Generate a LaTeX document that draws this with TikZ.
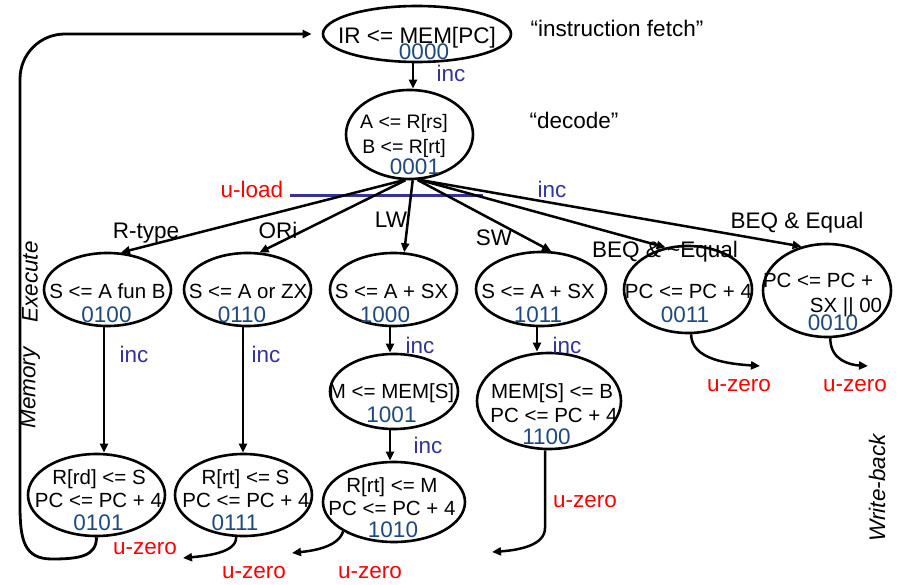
\documentclass[tikz,border=0pt]{standalone}
\usepackage{fontspec}
\setmainfont{Liberation Sans}
\usetikzlibrary{shapes.geometric,arrows.meta}
\definecolor{codeblue}{RGB}{31,73,125}
\definecolor{incblue}{RGB}{51,51,153}
\definecolor{zred}{RGB}{255,0,0}
\begin{document}
\begin{tikzpicture}[x=1pt,y=-1pt,
  state/.style={draw, ellipse, line width=2.6pt, inner sep=0pt},
  txt/.style={anchor=base, inner sep=0pt, font=\fontsize{20.5}{24}\selectfont},
  dtxt/.style={anchor=base, inner sep=0pt, font=\fontsize{19.5}{23}\selectfont},
  code/.style={anchor=base, inner sep=0pt, text=codeblue, font=\fontsize{22.5}{26}\selectfont},
  lbl/.style={anchor=base, inner sep=0pt, font=\fontsize{22.5}{26}\selectfont},
  inc/.style={lbl, text=incblue},
  uz/.style={lbl, text=zred},
  phase/.style={inner sep=0pt, rotate=90, font=\fontsize{22.5}{26}\selectfont\itshape},
  arr/.style={line width=2.5pt, -{Triangle[length=9pt,width=8pt]}},
]
\useasboundingbox (0,0) rectangle (901,585);

% states
\node[state, minimum width=188pt, minimum height=56pt] (fetch) at (417,34) {};
\node[state, minimum width=127pt, minimum height=89pt] (dec) at (409.5,134.5) {};
\node[state, minimum width=127pt, minimum height=73pt] (rtype) at (107.5,289.5) {};
\node[state, minimum width=127pt, minimum height=73pt] (ori) at (247.5,289.5) {};
\node[state, minimum width=127pt, minimum height=73pt] (lw) at (393.5,289.5) {};
\node[state, minimum width=130pt, minimum height=74pt] (sw) at (541,289) {};
\node[state, minimum width=128pt, minimum height=87pt] (bne) at (688,289.5) {};
\node[state, minimum width=128pt, minimum height=93pt] (beq) at (827,290.5) {};
\node[state, minimum width=128pt, minimum height=75pt] (mld) at (394,391.5) {};
\node[state, minimum width=144pt, minimum height=96pt] (swm) at (549,401) {};
\node[state, minimum width=137pt, minimum height=82pt] (rrd) at (96.5,495) {};
\node[state, minimum width=137pt, minimum height=82pt] (rrt) at (243.5,495) {};
\node[state, minimum width=142pt, minimum height=80pt] (rlw) at (394,502) {};

% state texts
\node[lbl] (tfetch) at (417,43.5) {IR <= MEM[PC]};
\node[code] (cfetch) at (424,60) {0000};
\node[dtxt] (tdec1) at (404,128.5) {A <= R[rs]};
\node[dtxt] (tdec2) at (404,153.5) {B <= R[rt]};
\node[code] (cdec) at (415,175) {0001};
\node[txt] (trtype) at (107.5,298) {S <= A fun B};
\node[code] (crtype) at (106.5,322) {0100};
\node[txt] (tori) at (248,298) {S <= A or ZX};
\node[code] (cori) at (242,322) {0110};
\node[txt] (tlw) at (391.5,298) {S <= A + SX};
\node[code] (clw) at (385,322) {1000};
\node[txt] (tsw) at (538,298) {S <= A + SX};
\node[code] (csw) at (538,322) {1011};
\node[txt] (tbne) at (688.5,298) {PC <= PC + 4};
\node[code] (cbne) at (685,322) {0011};
\node[txt] (tbeq1) at (818,287) {PC <= PC +};
\node[txt] (tbeq2) at (846,312) {SX || 00};
\node[code] (cbeq) at (833,330) {0010};
\node[txt] (tmld) at (391.5,398) {M <= MEM[S]};
\node[code] (cmld) at (391.5,422) {1001};
\node[txt] (tswm1) at (552,398) {MEM[S] <= B};
\node[txt] (tswm2) at (554,422) {PC <= PC + 4};
\node[code] (cswm) at (546.5,444) {1100};
\node[txt] (trrd1) at (99,484) {R[rd] <= S};
\node[txt] (trrd2) at (98.5,507) {PC <= PC + 4};
\node[code] (crrd) at (98.5,530) {0101};
\node[txt] (trrt1) at (245.5,484) {R[rt] <= S};
\node[txt] (trrt2) at (246,507) {PC <= PC + 4};
\node[code] (crrt) at (235,530) {0111};
\node[txt] (trlw1) at (392,492) {R[rt] <= M};
\node[txt] (trlw2) at (392,515) {PC <= PC + 4};
\node[code] (crlw) at (393,537) {1010};

% side notes
\node[lbl] (nfetch) at (617,37) {“instruction fetch”};
\node[lbl] (ndec) at (574,129) {“decode”};
\node[phase] (pex) at (30,282) {Execute};
\node[phase] (pmem) at (30,388) {Memory};
\node[phase] (pwb) at (877,488) {Write-back};

% branch labels
\node[lbl] (lrtype) at (146,238) {R-type};
\node[lbl] (lori) at (278,238) {ORi};
\node[lbl] (llw) at (391,228) {LW};
\node[lbl] (lsw) at (494,245) {SW};
\node[lbl] (lbne) at (665,258) {BEQ \& \textasciitilde Equal};
\node[lbl] (lbeq) at (797,229) {BEQ \& Equal};

% sequencing labels
\node[inc] (i0) at (451,82) {inc};
\node[uz] (uload) at (252,198) {u-load};
\node[inc] (i1) at (552,198) {inc};
\node[inc] (i2) at (134,362) {inc};
\node[inc] (i3) at (266,362) {inc};
\node[inc] (i4) at (420,353) {inc};
\node[inc] (i5) at (567,353) {inc};
\node[inc] (i6) at (428,453) {inc};
\node[uz] (z1) at (145,554) {u-zero};
\node[uz] (z2) at (254,578) {u-zero};
\node[uz] (z3) at (370,578) {u-zero};
\node[uz] (z4) at (585,507) {u-zero};
\node[uz] (z5) at (739,391) {u-zero};
\node[uz] (z6) at (855,391) {u-zero};

% column guides for the vertical connectors
\coordinate (xa) at (413,0);
\coordinate (xb) at (104,0);
\coordinate (xc) at (243,0);
\coordinate (xd) at (390,0);
\coordinate (xe) at (537,0);
\coordinate (xf) at (545,0);

% u-load dispatch line
\coordinate (ulstart) at (290,196);
\coordinate (ulend) at (483,196);
\draw[incblue, line width=3pt] (ulstart) -- (ulend);

% fetch -> decode
\draw[arr] (fetch.south -| xa) -- (dec.north -| xa);

% decode dispatch
\draw[arr] (dec.-97) -- (rtype.70);
\draw[arr] (dec.-95) -- (ori.72);
\draw[arr] (dec.-86) -- (lw.74);
\draw[arr] (dec.-80) -- (sw.75);
\draw[arr] (dec.-78) -- (bne.118);
\draw[arr] (dec.-78) -- (beq.120);

% execute -> memory / write-back
\draw[arr] (rtype.south -| xb) -- (rrd.north -| xb);
\draw[arr] (ori.south -| xc) -- (rrt.north -| xc);
\draw[arr] (lw.south -| xd) -- (mld.north -| xd);
\draw[arr] (mld.south -| xd) -- (rlw.north -| xd);
\draw[arr] (sw.south -| xe) -- (swm.north -| xe);

% u-zero exits
\coordinate (e1) at (183,558);
\coordinate (e2) at (292,553);
\coordinate (e3) at (492,552);
\coordinate (e4) at (760,366);
\coordinate (e5) at (868,366);
\draw[arr] (rrt.-100) .. controls (237,553) and (205,556) .. (e1);
\draw[arr] (rlw.-150) .. controls (338,548) and (310,551) .. (e2);
\draw[arr] (swm.south -| xf) -- (545,528) .. controls (545,545) and (520,550) .. (e3);
\draw[arr] (bne.-86) .. controls (691,360) and (730,364) .. (e4);
\draw[arr] (beq.-86) .. controls (830,360) and (850,365) .. (e5);

% return to instruction fetch
\draw[arr, line width=2.8pt] (rrd.south) .. controls (96.5,556) and (80,559) .. (52,559)
  .. controls (24,559) and (20,540) .. (20,505) -- (20,79)
  .. controls (20,54) and (40,34) .. (65,34) -- ([xshift=-10pt]fetch.west);
\end{tikzpicture}
\end{document}
